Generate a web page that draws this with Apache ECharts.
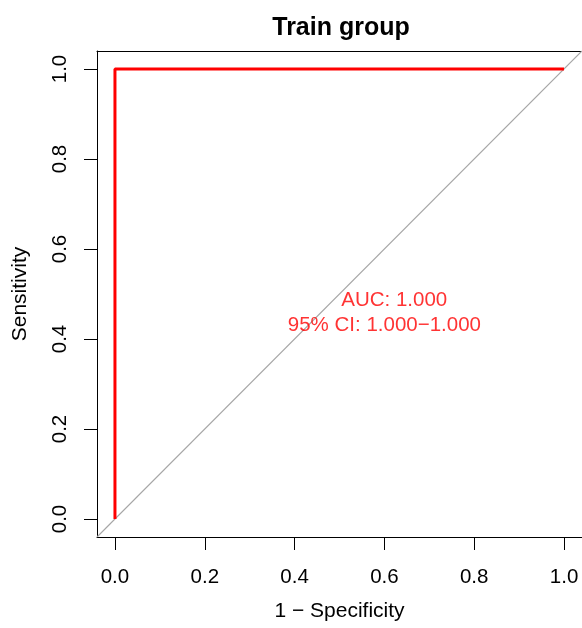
<!DOCTYPE html>
<html>
<head>
<meta charset="utf-8">
<script src="https://cdn.jsdelivr.net/npm/echarts@6/dist/echarts.min.js"></script>
<style>html,body{margin:0;padding:0;background:#fff;}#c{width:582px;height:628px;}</style>
</head>
<body>
<div id="c"></div>
<script>
// ---- data ----
var fpr = [0, 0, 1];          // 1 - Specificity
var tpr = [0, 1, 1];          // Sensitivity
var diagX = [-0.04, 1.04];
var diagY = [-0.04, 1.04];
var xTicks = [0, 0.2, 0.4, 0.6, 0.8, 1.0];
var yTicks = [0, 0.2, 0.4, 0.6, 0.8, 1.0];
var titleText = 'Train group';
var xName = '1 \u2212 Specificity';
var yName = 'Sensitivity';
var aucLines = ['AUC: 1.000', '95% CI: 1.000\u22121.000'];
var aucPosX = [0.622, 0.600];
var aucPosY = [0.487, 0.430];

var FONT = '"Liberation Sans", Arial, Helvetica, sans-serif';
var chart = echarts.init(document.getElementById('c'), null, {renderer: 'canvas'});

function zip(a, b) { return a.map(function (v, i) { return [v, b[i]]; }); }

function lineBlack() { return {show: true, onZero: false, lineStyle: {color: '#000', width: 1}}; }

var option = {
  backgroundColor: '#ffffff',
  animation: false,
  title: {
    text: titleText,
    left: 336, top: 11,
    textAlign: 'center',
    textStyle: {fontFamily: FONT, fontWeight: 'bold', fontSize: 25, color: '#000'}
  },
  grid: {left: 97, top: 51, width: 486, height: 486, show: false},
  xAxis: [{
    type: 'value', min: -0.04, max: 1.04, position: 'bottom',
    name: xName, nameLocation: 'middle', nameGap: 64,
    nameTextStyle: {fontFamily: FONT, fontSize: 21, color: '#000'},
    axisLine: lineBlack(),
    splitLine: {show: false},
    axisTick: {show: true, inside: false, length: 13, lineStyle: {color: '#000', width: 1}, customValues: xTicks},
    axisLabel: {
      customValues: xTicks, margin: 30, fontFamily: FONT, fontSize: 20.5, color: '#000',
      formatter: function (v) { return v.toFixed(1); }
    }
  }, {
    type: 'value', min: -0.04, max: 1.04, position: 'top',
    axisLine: lineBlack(), axisTick: {show: false}, axisLabel: {show: false}, splitLine: {show: false}
  }],
  yAxis: [{
    type: 'value', min: -0.04, max: 1.04, position: 'left',
    name: yName, nameLocation: 'middle', nameGap: 66, nameRotate: 90,
    nameTextStyle: {fontFamily: FONT, fontSize: 21, color: '#000'},
    axisLine: lineBlack(),
    splitLine: {show: false},
    axisTick: {show: true, inside: false, length: 13, lineStyle: {color: '#000', width: 1}, customValues: yTicks},
    axisLabel: {
      customValues: yTicks, margin: 26, rotate: 90, fontFamily: FONT, fontSize: 20.5, color: '#000',
      formatter: function (v) { return v.toFixed(1); }
    }
  }, {
    type: 'value', min: -0.04, max: 1.04, position: 'right',
    axisLine: lineBlack(), axisTick: {show: false}, axisLabel: {show: false}, splitLine: {show: false}
  }],
  series: [
    {
      type: 'line', data: zip(diagX, diagY), showSymbol: false, symbol: 'none',
      lineStyle: {color: '#a6a6a6', width: 1.1}, silent: true, z: 1
    },
    {
      type: 'line', data: zip(fpr, tpr), showSymbol: false, symbol: 'none',
      lineStyle: {color: '#ff0000', width: 3}, silent: true, z: 2
    },
    {
      type: 'scatter', symbolSize: 1, itemStyle: {color: 'rgba(0,0,0,0)'}, silent: true, z: 3,
      data: aucLines.map(function (t, i) { return {value: [aucPosX[i], aucPosY[i]], name: t}; }),
      label: {
        show: true, position: 'inside', formatter: function (p) { return p.name; },
        fontFamily: FONT, fontSize: 20.5, color: '#ff0000'
      }
    }
  ]
};
chart.setOption(option);
</script>
</body>
</html>
